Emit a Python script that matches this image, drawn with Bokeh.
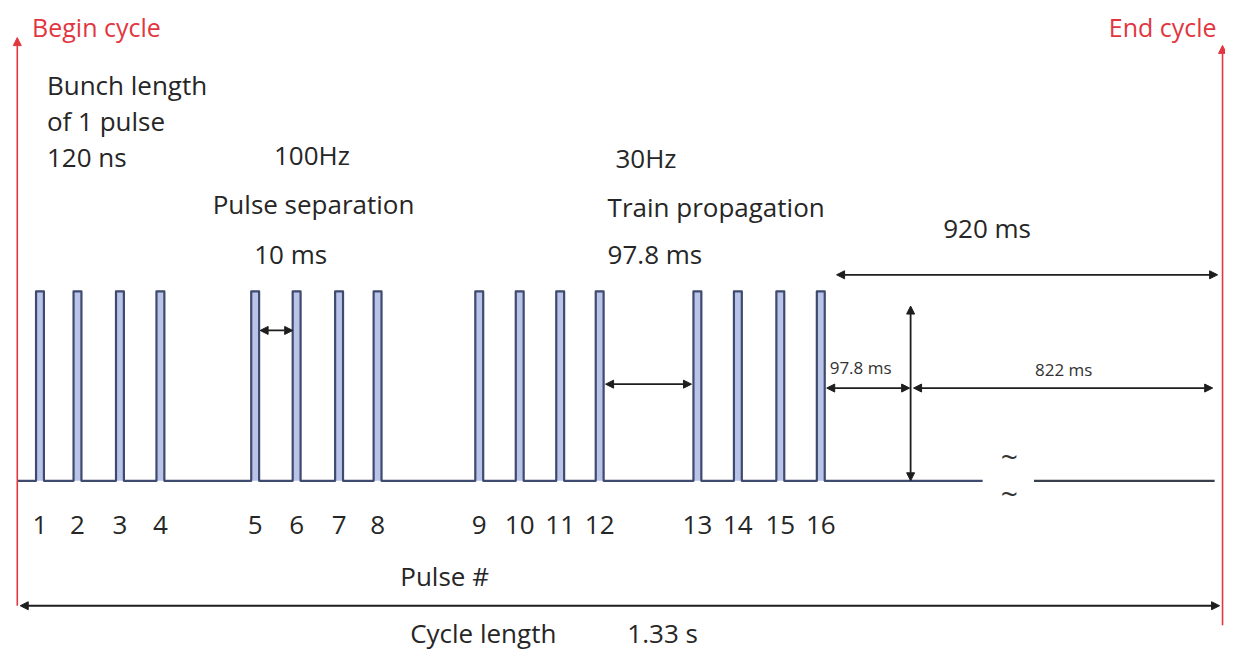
from bokeh.plotting import figure
from bokeh.models import ColumnDataSource, Range1d, Arrow, NormalHead
from bokeh.core.properties import value
from bokeh.embed import file_html
from bokeh.resources import INLINE

# ---------------- data (diagram units) ----------------
pulse_numbers = ["1", "2", "3", "4", "5", "6", "7", "8",
                 "9", "10", "11", "12", "13", "14", "15", "16"]
pulse_start = [36, 74, 117, 158, 254, 296, 339, 378,
               481, 522, 563, 603, 702, 743, 786, 827]
pulse_width = 8
level_low = 492
level_high = 298
trace_start = 17
trace_break = [995, 1047]
trace_end = 1230

FONT = value("Open Sans")
RED = "#e2363f"
INK = "#262626"
TXT_SHIFT = 10  # compensates the renderer's text baseline offset

W, H = 1225, 656
p = figure(width=W, height=H, output_backend="svg", toolbar_location=None,
           x_range=Range1d(0, 1241), y_range=Range1d(672, 0),
           min_border=0, x_axis_location=None, y_axis_location=None)
p.grid.visible = False
p.outline_line_color = None
p.background_fill_color = "white"
p.border_fill_color = "white"

# ---------------- pulse train ----------------
p.quad(left=[s for s in pulse_start],
       right=[s + pulse_width for s in pulse_start],
       bottom=[level_low] * len(pulse_start), top=[level_high] * len(pulse_start),
       fill_color="#b9c4e8", line_color=None)

xs, ys = [trace_start], [level_low]
for s in pulse_start:
    xs += [s, s, s + pulse_width, s + pulse_width]
    ys += [level_low, level_high, level_high, level_low]
xs.append(trace_break[0])
ys.append(level_low)
p.line(xs, ys, line_color="#3e4a6e", line_width=2.2, line_join="round")
p.line([trace_break[1], trace_end], [level_low, level_low],
       line_color="#3a3f4e", line_width=2.2)

# pulse numbers
p.text(x=[s + pulse_width / 2 for s in pulse_start],
       y=[547 - TXT_SHIFT] * len(pulse_start),
       text=pulse_numbers, text_font=FONT, text_font_size="26px",
       text_color=INK, text_align="center", text_baseline="alphabetic")

# ---------------- red begin / end markers ----------------
red_src = ColumnDataSource(dict(x0=[17, 1238], y0=[620, 640], x1=[17, 1238], y1=[38, 46]))
p.add_layout(Arrow(x_start="x0", y_start="y0", x_end="x1", y_end="y1", source=red_src,
                   line_color=RED, line_width=1.6,
                   end=NormalHead(size=8, fill_color=RED, line_color=RED)))
p.text(x=[32], y=[37 - TXT_SHIFT], text=["Begin cycle"], text_font=FONT,
       text_font_size="25px", text_color=RED, text_align="left",
       text_baseline="alphabetic")
p.text(x=[1232], y=[37 - TXT_SHIFT], text=["End cycle"], text_font=FONT,
       text_font_size="25px", text_color=RED, text_align="right",
       text_baseline="alphabetic")

# ---------------- black dimension arrows ----------------
arr_src = ColumnDataSource(dict(
    x0=[263, 613, 847, 837, 925, 20, 922],
    y0=[338, 393, 281, 397, 397, 620, 313],
    x1=[296, 700, 1233, 921, 1228, 1235, 922],
    y1=[338, 393, 281, 397, 397, 620, 492],
))
p.add_layout(Arrow(x_start="x0", y_start="y0", x_end="x1", y_end="y1", source=arr_src,
                   line_color="#1e1e1e", line_width=1.8,
                   start=NormalHead(size=8, fill_color="#1e1e1e", line_color="#1e1e1e"),
                   end=NormalHead(size=8, fill_color="#1e1e1e", line_color="#1e1e1e")))

# ---------------- annotation texts ----------------
big_x = [47, 47, 47, 277, 215, 257, 623, 615, 615, 955, 405, 415, 635]
big_y = [97, 133, 170, 168, 218, 270, 171, 222, 270, 243, 600, 658, 658]
big_t = ["Bunch length", "of 1 pulse", "120 ns", "100Hz", "Pulse separation", "10 ms",
         "30Hz", "Train propagation", "97.8 ms", "920 ms", "Pulse #",
         "Cycle length", "1.33 s"]
p.text(x=big_x, y=[v - TXT_SHIFT for v in big_y], text=big_t, text_font=FONT,
       text_font_size="26px", text_color=INK, text_align="left",
       text_baseline="alphabetic")

p.text(x=[840, 1048], y=[383 - TXT_SHIFT + 3, 385 - TXT_SHIFT + 3],
       text=["97.8 ms", "822 ms"], text_font=FONT,
       text_font_size="17px", text_color="#333333", text_align="left",
       text_baseline="alphabetic")

# break marks
p.text(x=[1022, 1022], y=[467, 505], text=["~", "~"],
       text_font=FONT, text_font_size="30px", text_color="#333333",
       text_align="center", text_baseline="middle")

open("out.html", "w").write(file_html(p, INLINE))
